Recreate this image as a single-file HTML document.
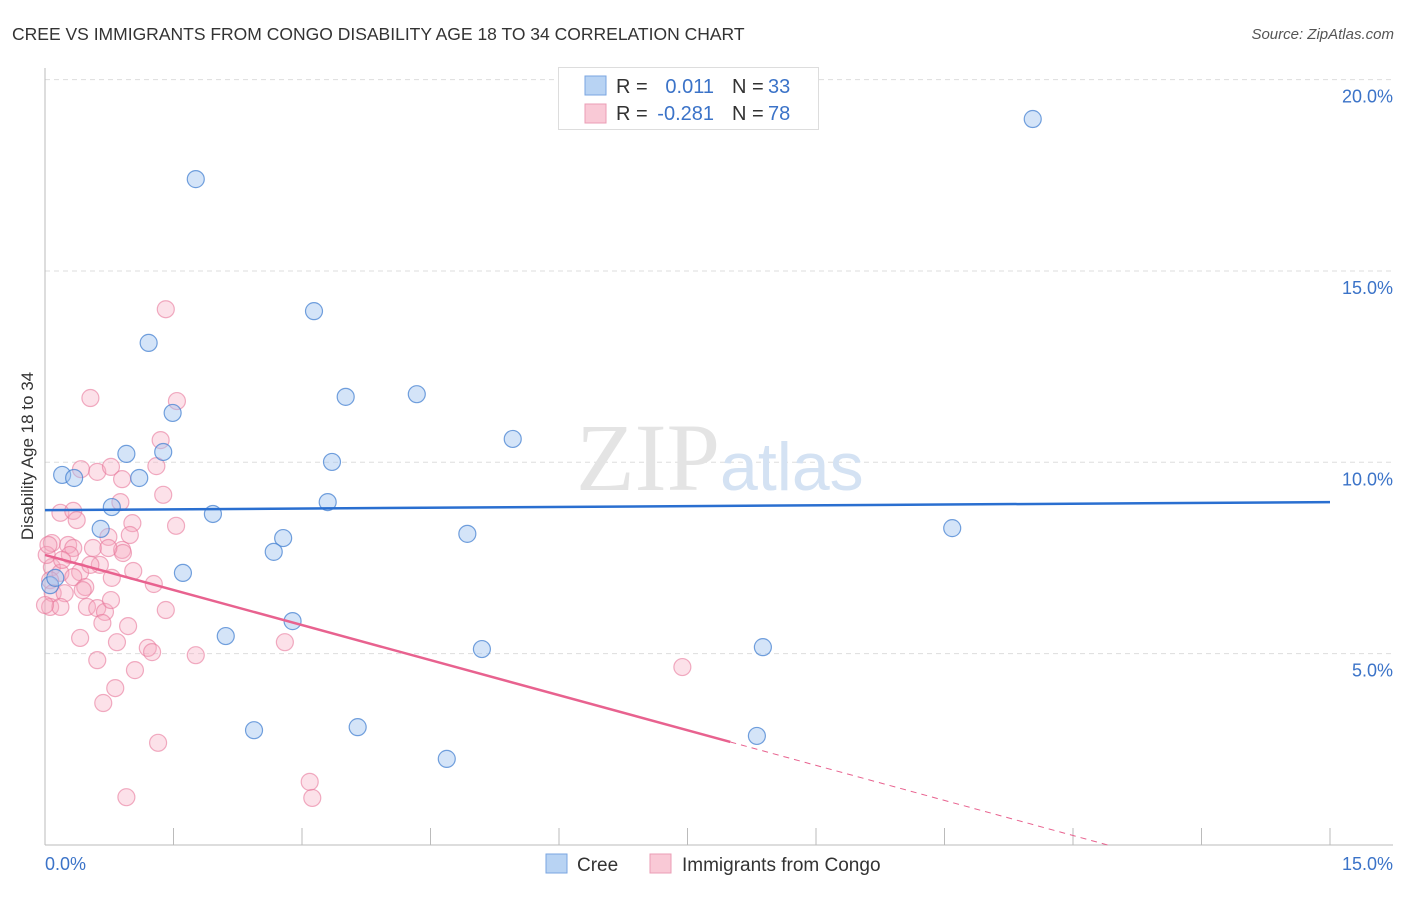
<!DOCTYPE html>
<html><head><meta charset="utf-8"><style>
body{margin:0;background:#fff;font-family:"Liberation Sans",sans-serif}
svg text{font-family:"Liberation Sans",sans-serif}
</style></head><body>
<svg id="chart" width="1406" height="892" viewBox="0 0 1406 892">
<text x="12" y="40" font-size="17.5" fill="#333">CREE VS IMMIGRANTS FROM CONGO DISABILITY AGE 18 TO 34 CORRELATION CHART</text>
<text x="1394" y="39" font-size="15" fill="#555" font-style="italic" text-anchor="end">Source: ZipAtlas.com</text>
<g id="grid"></g>
<text x="720" y="490" font-size="96" fill="#e4e4e4" font-family="Liberation Serif,serif" text-anchor="end" style="font-family:'Liberation Serif',serif">ZIP</text>
<text x="720" y="490" font-size="68" fill="#d4e2f3">atlas</text>
<line x1="45" y1="68" x2="45" y2="845" stroke="#bbb"/>
<line x1="45" y1="845" x2="1393" y2="845" stroke="#bbb"/>
<g id="ticks"></g>
<g id="pts"></g>
<g id="lines"></g>
<text x="33" y="456" font-size="17" fill="#333" text-anchor="middle" transform="rotate(-90 33 456)">Disability Age 18 to 34</text>
<text x="45" y="870" font-size="18" fill="#3b73c8">0.0%</text>
<text x="1393" y="870" font-size="18" fill="#3b73c8" text-anchor="end">15.0%</text>
<g>
<rect x="558.5" y="67.5" width="260" height="62" fill="#fff" stroke="#ddd"/>
<rect x="585" y="76" width="21" height="19" fill="#b8d3f3" stroke="#7aa6e0"/>
<rect x="585" y="104" width="21" height="19" fill="#f9c9d6" stroke="#eb9db5"/>
<text x="616" y="93" font-size="20" fill="#333">R =</text><text x="714" y="93" font-size="20" fill="#3b73c8" text-anchor="end">0.011</text>
<text x="732" y="93" font-size="20" fill="#333">N =</text><text x="768" y="93" font-size="20" fill="#3b73c8">33</text>
<text x="616" y="120" font-size="20" fill="#333">R =</text><text x="714" y="120" font-size="20" fill="#3b73c8" text-anchor="end">-0.281</text>
<text x="732" y="120" font-size="20" fill="#333">N =</text><text x="768" y="120" font-size="20" fill="#3b73c8">78</text>
</g>
<g>
<rect x="546" y="854" width="21" height="19" fill="#b8d3f3" stroke="#7aa6e0"/>
<text x="577" y="871" font-size="19" fill="#333">Cree</text>
<rect x="650" y="854" width="21" height="19" fill="#f9c9d6" stroke="#eb9db5"/>
<text x="682" y="871" font-size="19" fill="#333">Immigrants from Congo</text>
</g>
</svg>
<script>
const yTicks=[5,10,15,20];
const yTickLabels=["5.0%","10.0%","15.0%","20.0%"];
const xTicks=[0,1.5,3,4.5,6,7.5,9,10.5,12,13.5,15];
const creeX=[11.53,1.76,3.14,1.21,3.51,4.34,1.49,5.46,0.95,1.38,0.20,0.34,1.10,3.35,0.78,3.30,1.96,0.65,10.59,4.93,2.78,2.67,1.61,2.89,2.11,5.10,8.38,2.44,3.65,4.69,8.31,0.06,0.12];
const creeY=[18.97,17.40,13.95,13.12,11.71,11.78,11.29,10.61,10.22,10.27,9.67,9.59,9.59,10.01,8.83,8.96,8.65,8.26,8.28,8.13,8.02,7.66,7.11,5.85,5.46,5.12,5.17,3.00,3.08,2.25,2.85,6.79,6.98];
const congoX=[0.53,1.54,1.35,1.30,0.42,0.61,0.77,0.90,1.38,0.18,0.33,0.37,0.88,1.02,1.53,0.99,0.74,0.08,0.27,0.33,0.56,0.90,0.91,0.64,0.08,0.18,0.41,1.03,0.78,0.06,0.33,1.27,0.47,0.09,0.23,0.44,0.06,0.18,0.49,0.61,0.70,0.77,1.41,0.67,0.97,0.41,0.84,1.20,1.25,1.76,0.61,1.05,0.82,0.68,1.32,0.95,1.41,2.80,7.44,3.09,3.12,0.00,0.02,0.04,0.53,0.29,0.74,0.20];
const congoY=[11.68,11.60,10.58,9.90,9.82,9.75,9.88,9.56,9.15,8.68,8.73,8.49,8.96,8.41,8.34,8.10,8.05,7.89,7.84,7.76,7.76,7.71,7.63,7.32,7.26,7.11,7.13,7.16,6.98,6.92,7.00,6.82,6.74,6.58,6.58,6.66,6.22,6.22,6.22,6.19,6.09,6.40,6.14,5.80,5.72,5.41,5.30,5.15,5.04,4.96,4.83,4.57,4.10,3.71,2.67,1.25,14.0,5.30,4.65,1.65,1.23,6.27,7.58,7.84,7.32,7.58,7.76,7.45];
const creeTrend=[8.75,8.96];
const congoTrend=[7.58,-0.611];
const NS="http://www.w3.org/2000/svg";
const xs=v=>45+v*(1285/15);
const ys=v=>845-v*38.27;
function mk(t,a,p){const e=document.createElementNS(NS,t);for(const k in a)e.setAttribute(k,a[k]);document.getElementById(p).appendChild(e);return e;}
yTicks.forEach((t,i)=>{
 const l=mk('line',{x1:45,x2:1393,y1:ys(t),y2:ys(t),stroke:'#ddd','stroke-dasharray':'5,4'},'grid');
 
 
 const tx=mk('text',{x:1393,y:ys(t)+23,'font-size':18,fill:'#3b73c8','text-anchor':'end'},'grid');
 tx.textContent=yTickLabels[i];
 
 
});
xTicks.forEach(t=>{
 const l=mk('line',{x1:xs(t),x2:xs(t),y1:828,y2:845,stroke:'#bbb'},'ticks');
 
 
});
congoX.forEach((x,i)=>{
 const c=mk('circle',{cx:xs(x),cy:ys(congoY[i]),r:8.5,fill:'rgba(246,170,192,0.35)',stroke:'rgba(232,120,155,0.6)','stroke-width':1.2},'pts');
 
 
});
creeX.forEach((x,i)=>{
 const c=mk('circle',{cx:xs(x),cy:ys(creeY[i]),r:8.5,fill:'rgba(160,196,240,0.45)',stroke:'rgba(70,130,210,0.75)','stroke-width':1.2},'pts');
 
 
});
const bl=mk('line',{x1:xs(0),y1:ys(creeTrend[0]),x2:xs(15),y2:ys(creeTrend[1]),stroke:'#2a6fd0','stroke-width':2.5},'lines');


const cy=x=>congoTrend[0]+congoTrend[1]*x;
const xEnd=8,xZero=-congoTrend[0]/congoTrend[1];
const pl=mk('line',{x1:xs(0),y1:ys(cy(0)),x2:xs(xEnd),y2:ys(cy(xEnd)),stroke:'#e8628f','stroke-width':2.5},'lines');


const pd=mk('line',{x1:xs(xEnd),y1:ys(cy(xEnd)),x2:xs(xZero),y2:ys(0),stroke:'#e8628f','stroke-width':1,'stroke-dasharray':'6,5'},'lines');


</script>
</body></html>
